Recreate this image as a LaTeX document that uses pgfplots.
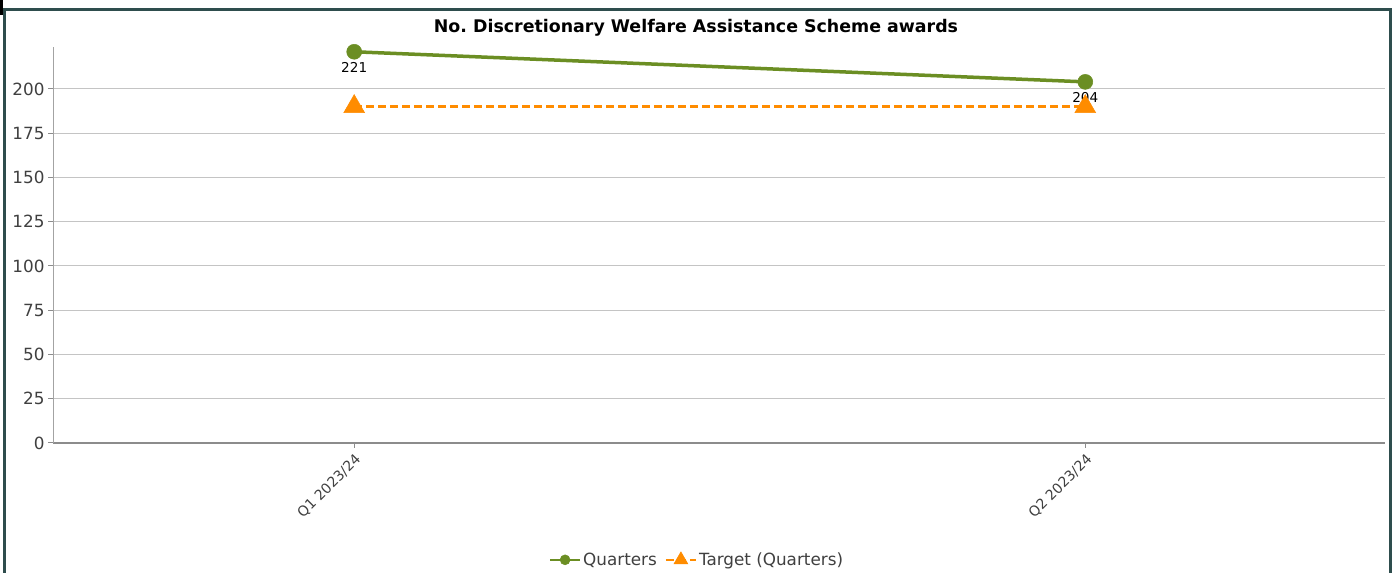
\documentclass[border=0pt]{standalone}
\usepackage{pgfplots}
\pgfplotsset{compat=1.18}
\usepackage{fontspec}
\setmainfont{DejaVu Sans}
\definecolor{framec}{HTML}{2E4D4D}
\definecolor{qgreen}{HTML}{6B8E23}
\definecolor{torange}{HTML}{FF8C00}
\definecolor{gridc}{HTML}{C4C4C4}
\definecolor{axc}{HTML}{8C8C8C}
\definecolor{tickc}{HTML}{404040}
\begin{document}
\begin{tikzpicture}[x=1bp,y=1bp]
\path[use as bounding box] (0,0) rectangle (1392,573);
\fill[white] (0,0) rectangle (1392,573);
\begin{axis}[
  at={(53bp,130bp)}, anchor=south west,
  scale only axis, width=1332bp, height=396bp,
  xmin=-0.412, xmax=1.41, ymin=0, ymax=223.7,
  axis x line=bottom, axis y line=left,
  axis line style={-},
  x axis line style={draw=axc, line width=1.5bp},
  y axis line style={draw=axc!80, line width=1bp},
  xtick={0,1}, xticklabels={Q1 2023/24, Q2 2023/24},
  ytick={0,25,...,200},
  ymajorgrids, grid style={gridc, line width=1bp},
  tick align=outside, major tick length=5bp,
  tick style={axc, line width=1bp},
  /pgf/number format/assume math mode=true,
  yticklabel style={font=\fontsize{16.8bp}{20bp}\selectfont, text=tickc},
  xticklabel style={font=\fontsize{14bp}{17bp}\selectfont, text=tickc, rotate=45, anchor=north east},
  legend style={at={(0.4835,-0.295)}, anchor=center, draw=none, fill=none,
    font=\fontsize{16.8bp}{20bp}\selectfont, text=tickc,
    /tikz/every even column/.style={column sep=6bp}},
  legend columns=2,
]
\addplot[color=qgreen, line width=3.5bp, mark=*, mark size=7.5bp, mark options={solid, line width=0.5bp},
  nodes near coords,
  every node near coord/.append style={anchor=north, yshift=-7bp, text=black, font=\fontsize{13.6bp}{16bp}\selectfont},
  legend image code/.code={\draw[mark repeat=2,mark phase=2, line width=2.2bp, mark size=5bp] plot coordinates {(0bp,0bp)(15bp,0bp)(30bp,0bp)};}]
  coordinates {(0,221) (1,204)};
\addlegendentry{Quarters}
\addplot[color=torange, line width=3.5bp, dash pattern=on 8bp off 4bp, mark=triangle*, mark size=12bp, mark options={solid, line width=0.5bp},
  legend image code/.code={\draw[mark repeat=2,mark phase=2, line width=2.2bp, mark size=8bp] plot coordinates {(0bp,0bp)(15bp,0bp)(30bp,0bp)};}]
  coordinates {(0,190) (1,190)};
\addlegendentry{Target (Quarters)}
\end{axis}
\node[font=\bfseries\fontsize{17.4bp}{20bp}\selectfont] at (696,545) {No.\ Discretionary Welfare Assistance Scheme awards};
\draw[framec, line width=3bp] (4.5,0) -- (4.5,563.5) -- (1390,563.5) -- (1390,0);
\fill[black] (0,558) rectangle (3,573);
\end{tikzpicture}
\end{document}
